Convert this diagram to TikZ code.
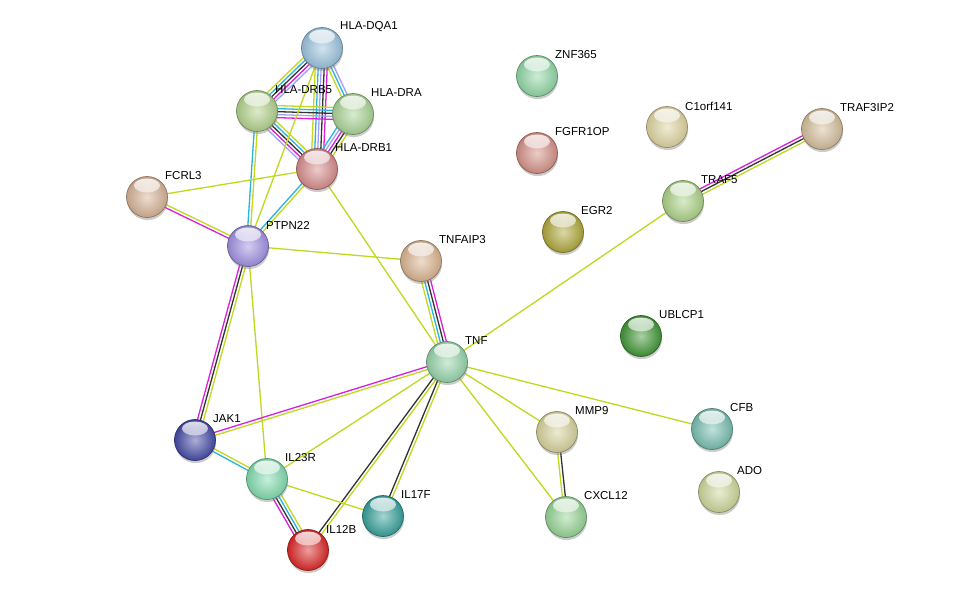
\documentclass[tikz,border=0pt]{standalone}
\usepackage{fontspec}
\newfontfamily\lblfont{Liberation Sans}
\usetikzlibrary{calc,shadows,fadings,backgrounds}
\definecolor{tm}{RGB}{192,216,30}
\definecolor{db}{RGB}{40,180,225}
\definecolor{ex}{RGB}{220,30,220}
\definecolor{co}{RGB}{50,50,50}
\definecolor{ho}{RGB}{160,160,250}
\definecolor{cDQA}{RGB}{155,195,222}
\definecolor{cDRBv}{RGB}{178,210,140}
\definecolor{cDRA}{RGB}{170,212,150}
\definecolor{cDRBi}{RGB}{215,140,140}
\definecolor{cFCRL}{RGB}{215,178,150}
\definecolor{cPTPN}{RGB}{160,145,225}
\definecolor{cTNFAIP}{RGB}{218,180,145}
\definecolor{cTNF}{RGB}{150,212,170}
\definecolor{cJAK}{RGB}{70,75,165}
\definecolor{cILxxiii}{RGB}{130,220,175}
\definecolor{cILxvii}{RGB}{55,160,155}
\definecolor{cILxii}{RGB}{220,40,40}
\definecolor{cMMP}{RGB}{215,210,155}
\definecolor{cCXCL}{RGB}{150,212,150}
\definecolor{cCFB}{RGB}{120,190,175}
\definecolor{cADO}{RGB}{205,215,155}
\definecolor{cUBL}{RGB}{65,150,55}
\definecolor{cEGR}{RGB}{175,168,60}
\definecolor{cTRAFv}{RGB}{172,210,135}
\definecolor{cTRAFIP}{RGB}{212,190,155}
\definecolor{cCorf}{RGB}{222,212,160}
\definecolor{cFGFR}{RGB}{212,145,135}
\definecolor{cZNF}{RGB}{145,215,165}
\tikzset{
  protball/.style={circle, minimum size=41pt, inner sep=0pt, line width=0.7pt,
    draw=#1!65!black, inner color=#1!45!white, outer color=#1!90!black,
    drop shadow={shadow xshift=0.6pt, shadow yshift=-2.6pt, opacity=0.4},
    path picture={\fill[white, path fading=south, opacity=0.85]
      ([yshift=-9pt]path picture bounding box.north) ellipse [x radius=13pt, y radius=7pt];}},
  lbl/.style={anchor=west, inner sep=0pt, text=black, font=\lblfont\fontsize{11.5}{13}\selectfont},
  edgeline/.style={line width=1.3pt}
}
\newcommand\gnode[5]{\node[protball=#4] (#1) at (#2,#3) {}; \node[lbl] (#1-l) at ($(#1)+(18,-21)$) {#5};}
\newcommand\sedge[4]{%
  \foreach \c [count=\i] in {#4}{%
    \pgfmathsetmacro\off{(\i-(#3+1)/2)*3.0}%
    \draw[edgeline, \c] ($(#1)!\off pt!90:(#2)$) -- ($(#2)!\off pt!-90:(#1)$);%
  }}
\begin{document}
\begin{tikzpicture}[x=1pt,y=-1pt]
\useasboundingbox (0,0) rectangle (976,595);
\gnode{dqa1}{322}{48}{cDQA}{HLA-DQA1}
\gnode{drb5}{257}{111}{cDRBv}{HLA-DRB5}
\gnode{dra}{353}{114}{cDRA}{HLA-DRA}
\gnode{drb1}{317}{169}{cDRBi}{HLA-DRB1}
\gnode{fcrl3}{147}{197}{cFCRL}{FCRL3}
\gnode{ptpn22}{248}{246}{cPTPN}{PTPN22}
\gnode{tnfaip3}{421}{261}{cTNFAIP}{TNFAIP3}
\gnode{tnf}{447}{362}{cTNF}{TNF}
\gnode{jak1}{195}{440}{cJAK}{JAK1}
\gnode{il23r}{267}{479}{cILxxiii}{IL23R}
\gnode{il12b}{308}{550}{cILxii}{IL12B}
\gnode{il17f}{383}{516}{cILxvii}{IL17F}
\gnode{mmp9}{557}{432}{cMMP}{MMP9}
\gnode{cxcl12}{566}{517}{cCXCL}{CXCL12}
\gnode{cfb}{712}{429}{cCFB}{CFB}
\gnode{ado}{719}{492}{cADO}{ADO}
\gnode{ublcp1}{641}{336}{cUBL}{UBLCP1}
\gnode{egr2}{563}{232}{cEGR}{EGR2}
\gnode{traf5}{683}{201}{cTRAFv}{TRAF5}
\gnode{traf3ip2}{822}{129}{cTRAFIP}{TRAF3IP2}
\gnode{c1orf141}{667}{127}{cCorf}{C1orf141}
\gnode{fgfr1op}{537}{153}{cFGFR}{FGFR1OP}
\gnode{znf365}{537}{76}{cZNF}{ZNF365}
\begin{pgfonlayer}{background}
\fill[white] (0,0) rectangle (976,595);
\sedge{dqa1}{drb5}{5}{tm,db,co,ex,ho}
\sedge{dqa1}{dra}{3}{tm,db,ho}
\sedge{dqa1}{drb1}{5}{tm,db,ho,co,ex}
\sedge{drb5}{dra}{5}{ex,ho,co,db,tm}
\sedge{drb5}{drb1}{5}{ho,ex,co,db,tm}
\sedge{dra}{drb1}{5}{db,ho,ex,co,tm}
\sedge{dqa1}{ptpn22}{1}{tm}
\sedge{drb5}{ptpn22}{2}{db,tm}
\sedge{drb1}{ptpn22}{2}{db,tm}
\sedge{drb1}{fcrl3}{1}{tm}
\sedge{drb1}{tnf}{1}{tm}
\sedge{fcrl3}{ptpn22}{2}{ex,tm}
\sedge{ptpn22}{tnfaip3}{1}{tm}
\sedge{ptpn22}{jak1}{3}{ex,co,tm}
\sedge{ptpn22}{il23r}{1}{tm}
\sedge{tnfaip3}{tnf}{4}{tm,db,co,ex}
\sedge{tnf}{traf5}{1}{tm}
\sedge{tnf}{jak1}{2}{ex,tm}
\sedge{tnf}{il23r}{1}{tm}
\sedge{tnf}{il12b}{2}{co,tm}
\sedge{tnf}{il17f}{2}{co,tm}
\sedge{tnf}{mmp9}{1}{tm}
\sedge{tnf}{cxcl12}{1}{tm}
\sedge{tnf}{cfb}{1}{tm}
\sedge{jak1}{il23r}{2}{db,tm}
\sedge{il23r}{il12b}{4}{ex,co,db,tm}
\sedge{il23r}{il17f}{1}{tm}
\sedge{mmp9}{cxcl12}{2}{tm,co}
\sedge{traf5}{traf3ip2}{3}{tm,co,ex}
\end{pgfonlayer}
\end{tikzpicture}
\end{document}
